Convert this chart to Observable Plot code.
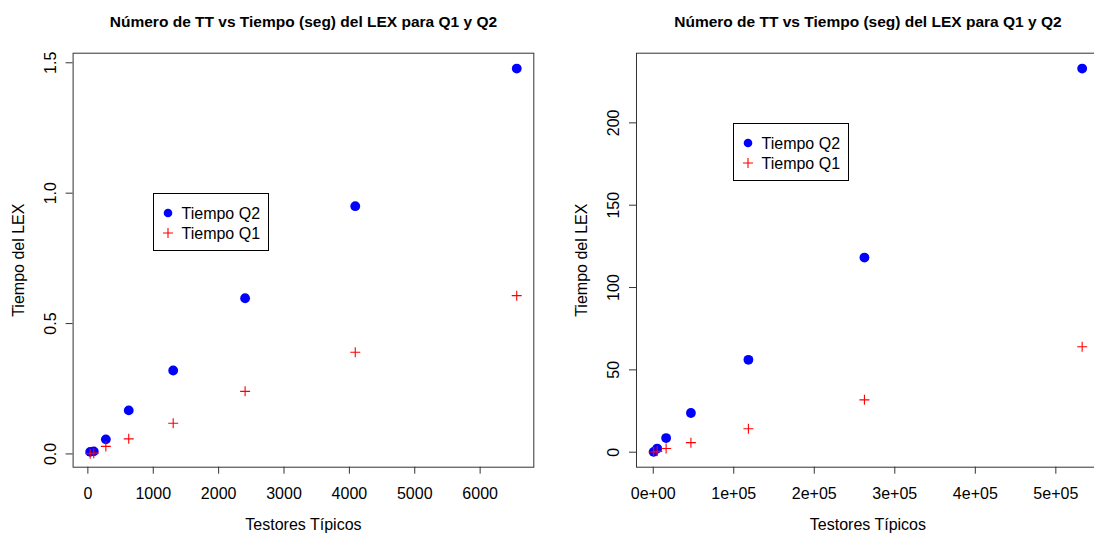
<!DOCTYPE html>
<html>
<head>
<meta charset="utf-8">
<script src="https://cdn.jsdelivr.net/npm/d3@7"></script>
<script src="https://cdn.jsdelivr.net/npm/@observablehq/plot@0.6"></script>
<style>
html, body { margin: 0; padding: 0; background: #fff; overflow: hidden; }
#wrap { position: relative; width: 1094px; height: 533px; overflow: hidden; background: #fff;
  font-family: "Liberation Sans", Arial, Helvetica, sans-serif; }
.panel { position: absolute; top: 0; }
.panel svg { max-width: none !important; overflow: visible; }
.legend { position: absolute; box-sizing: border-box; border: 1px solid #000; background: #fff; }
</style>
</head>
<body>
<div id="wrap"></div>
<script>
// ---- data ----
const titleText = "Número de TT vs Tiempo (seg) del LEX para Q1 y Q2";
const xTitle = "Testores Típicos";
const yTitle = "Tiempo del LEX";
const legendLabels = ["Tiempo Q2", "Tiempo Q1"];

// left panel
const ttLeft = [35, 90, 275, 625, 1305, 2405, 4090, 6560];
const q2Left = [0.008, 0.010, 0.056, 0.167, 0.320, 0.597, 0.950, 1.478];
const q1Left = [0.001, 0.003, 0.029, 0.058, 0.118, 0.240, 0.390, 0.607];
const xTicksLeft = [0, 1000, 2000, 3000, 4000, 5000, 6000];
const xLabelsLeft = ["0", "1000", "2000", "3000", "4000", "5000", "6000"];
const yTicksLeft = [0, 0.5, 1.0, 1.5];
const yLabelsLeft = ["0.0", "0.5", "1.0", "1.5"];

// right panel
const ttRight = [500, 4900, 16000, 46800, 118200, 262300, 532700];
const q2Right = [0.2, 2.2, 8.6, 23.8, 56.1, 118.2, 233.0];
const q1Right = [0.1, 0.5, 2.2, 5.8, 14.2, 31.8, 64.0];
const xTicksRight = [0, 100000, 200000, 300000, 400000, 500000];
const xLabelsRight = ["0e+00", "1e+05", "2e+05", "3e+05", "4e+05", "5e+05"];
const yTicksRight = [0, 50, 100, 150, 200];
const yLabelsRight = ["0", "50", "100", "150", "200"];

const FONT = '"Liberation Sans", Arial, Helvetica, sans-serif';
const BLUE = "#0000ff";
const RED = "#ff0000";

const crossSymbol = {
  draw(context, size) {
    const r = Math.sqrt(size / Math.PI);
    context.moveTo(-r, 0); context.lineTo(r, 0);
    context.moveTo(0, -r); context.lineTo(0, r);
  }
};

function ext(a) {
  const [lo, hi] = d3.extent(a);
  const p = (hi - lo) * 0.04;
  return [lo - p, hi + p];
}

function panel({tt, q2, q1, xTicks, xLabels, yTicks, yLabels, width, marginLeft, marginRight}) {
  const d2 = tt.map((x, i) => ({x, y: q2[i]}));
  const d1 = tt.map((x, i) => ({x, y: q1[i]}));
  const xl = new Map(xTicks.map((t, i) => [t, xLabels[i]]));
  return Plot.plot({
    width, height: 533,
    marginLeft, marginRight, marginTop: 52.7, marginBottom: 66.3,
    x: {domain: ext(tt), label: null},
    y: {domain: ext(q2), label: null},
    style: {fontFamily: FONT, fontSize: "16px", color: "#000", background: "transparent", overflow: "visible"},
    marks: [
      Plot.frame({stroke: "#333", strokeWidth: 1}),
      Plot.axisX({ticks: xTicks, tickSize: 7, tickPadding: 13, tickFormat: d => xl.get(d),
        label: null, fontSize: 16, stroke: "#333", fill: "#000"}),
      Plot.axisY({ticks: yTicks, tickSize: 7, tickFormat: () => "", label: null, stroke: "#333"}),
      Plot.text(yTicks, {y: d => d, text: (d, i) => yLabels[i], frameAnchor: "left", dx: -22.5,
        rotate: -90, textAnchor: "middle", lineAnchor: "middle", fontSize: 16, fill: "#000"}),
      Plot.text([xTitle], {text: d => d, frameAnchor: "bottom", dy: 57.3, lineAnchor: "middle",
        fontSize: 16, fill: "#000"}),
      Plot.text([yTitle], {text: d => d, frameAnchor: "left", dx: -54.7, rotate: -90,
        textAnchor: "middle", lineAnchor: "middle", fontSize: 16, fill: "#000"}),
      Plot.text([titleText], {text: d => d, frameAnchor: "top", dy: -31.2, lineAnchor: "middle",
        fontSize: 15.5, fontWeight: "bold", fill: "#000"}),
      Plot.dot(d2, {x: "x", y: "y", r: 4.9, fill: BLUE, stroke: null}),
      Plot.dot(d1, {x: "x", y: "y", r: 5, symbol: crossSymbol, stroke: RED, fill: "none", strokeWidth: 1.1})
    ]
  });
}

function legend(left, top) {
  const div = document.createElement("div");
  div.className = "legend";
  div.style.left = left + "px";
  div.style.top = top + "px";
  div.style.width = "116px";
  div.style.height = "58px";
  const svg = d3.create("svg").attr("width", 114).attr("height", 56)
    .style("display", "block").style("font-family", FONT).style("font-size", "16px");
  svg.append("circle").attr("cx", 14).attr("cy", 19).attr("r", 4.3).attr("fill", BLUE);
  svg.append("path").attr("d", "M9,39H19M14,34V44").attr("stroke", RED).attr("stroke-width", 1.1).attr("fill", "none");
  legendLabels.forEach((t, i) => {
    svg.append("text").attr("x", 27.5).attr("y", 19 + i * 20).attr("dy", "0.35em").attr("fill", "#000").text(t);
  });
  div.appendChild(svg.node());
  return div;
}

const wrap = document.getElementById("wrap");

const left = document.createElement("div");
left.className = "panel"; left.style.left = "0px";
left.appendChild(panel({tt: ttLeft, q2: q2Left, q1: q1Left, xTicks: xTicksLeft, xLabels: xLabelsLeft,
  yTicks: yTicksLeft, yLabels: yLabelsLeft, width: 547, marginLeft: 72.6, marginRight: 13.7}));
wrap.appendChild(left);

const right = document.createElement("div");
right.className = "panel"; right.style.left = "547px";
right.appendChild(panel({tt: ttRight, q2: q2Right, q1: q1Right, xTicks: xTicksRight, xLabels: xLabelsRight,
  yTicks: yTicksRight, yLabels: yLabelsRight, width: 552, marginLeft: 89, marginRight: 0.2}));
wrap.appendChild(right);

wrap.appendChild(legend(153.3, 193.3));
wrap.appendChild(legend(733.3, 122.7));
</script>
</body>
</html>
